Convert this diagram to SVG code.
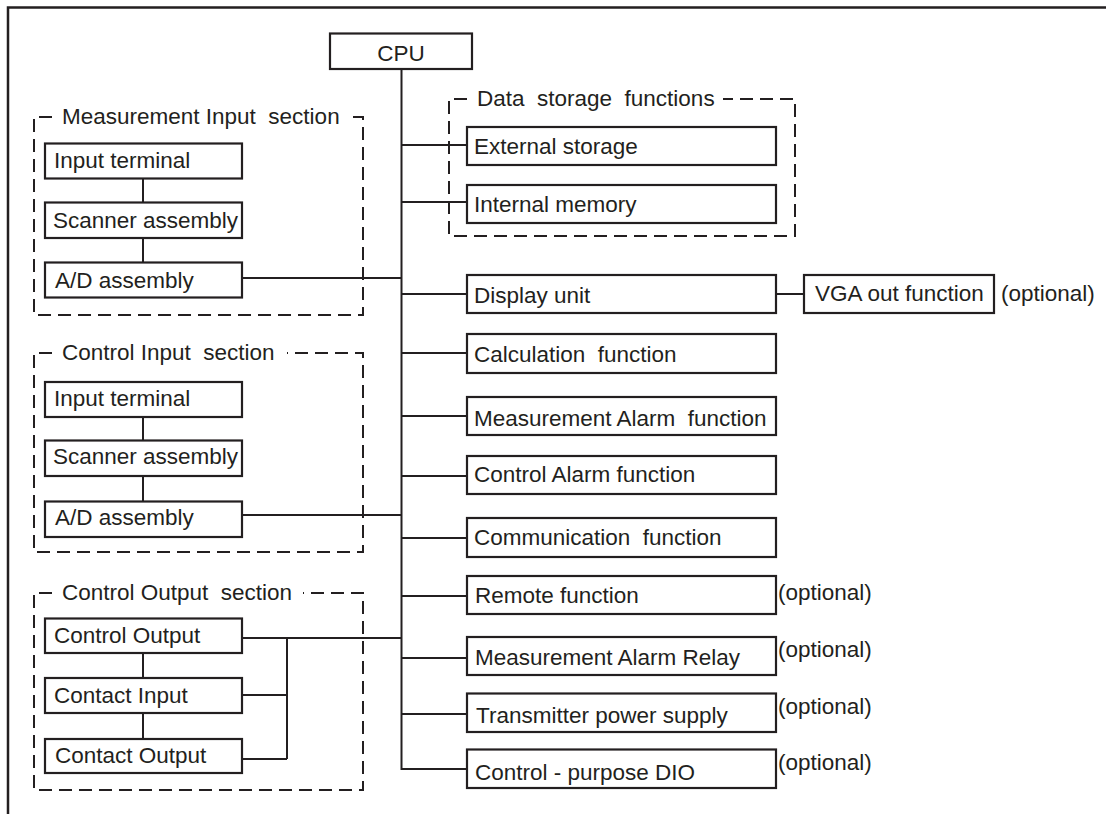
<svg xmlns="http://www.w3.org/2000/svg" width="1106" height="814" viewBox="0 0 1106 814">
  <style>
    .frame { fill: none; stroke: #231f20; stroke-width: 2.5; }
    .box rect { fill: #ffffff; stroke: #231f20; stroke-width: 2.2; }
    .grp { fill: none; stroke: #231f20; stroke-width: 2; stroke-dasharray: 13 7; }
    .wire { fill: none; stroke: #231f20; stroke-width: 2; }
    text { font-family: "Liberation Sans", Arial, Helvetica, sans-serif; font-size: 22.5px; fill: #231f20; white-space: pre; }
    .mid { text-anchor: middle; }
  </style>

  <rect width="1106" height="814" fill="#ffffff"/>

  <!-- page frame: top and left rules -->
  <path class="frame" d="M8,814 V7.5 H1106"/>

  <!-- connectors -->
  <g id="connectors">
    <!-- CPU trunk -->
    <path class="wire" d="M401.5,69 V769 H467"/>
    <!-- branches to the right-hand functions -->
    <path class="wire" d="M401.5,145 H467"/>
    <path class="wire" d="M401.5,202 H467"/>
    <path class="wire" d="M401.5,294 H467"/>
    <path class="wire" d="M401.5,353 H467"/>
    <path class="wire" d="M401.5,416 H467"/>
    <path class="wire" d="M401.5,476 H467"/>
    <path class="wire" d="M401.5,538 H467"/>
    <path class="wire" d="M401.5,596 H467"/>
    <path class="wire" d="M401.5,658 H467"/>
    <path class="wire" d="M401.5,714 H467"/>
    <!-- display unit to VGA out -->
    <path class="wire" d="M776,294 H804"/>
    <!-- left sections to the trunk -->
    <path class="wire" d="M242,278 H401.5"/>
    <path class="wire" d="M242,515 H401.5"/>
    <path class="wire" d="M242,638 H401.5"/>
    <!-- control output bus -->
    <path class="wire" d="M287,638 V759"/>
    <path class="wire" d="M242,695 H287"/>
    <path class="wire" d="M242,759 H287"/>
    <!-- chains inside each section -->
    <path class="wire" d="M143,178 V202 M143,238 V262"/>
    <path class="wire" d="M143,417 V440 M143,476 V501"/>
    <path class="wire" d="M143,653 V678 M143,713 V739"/>
  </g>

  <!-- CPU -->
  <g id="cpu" class="box">
    <rect x="330" y="33.5" width="142" height="35.5"/>
    <text x="401" y="61" class="mid">CPU</text>
  </g>

  <!-- Measurement Input section -->
  <g id="measurement-input-section">
    <path class="grp" d="M52,117 H34 V315 H363 V117 H350"/>
    <text x="62" y="124">Measurement Input  section</text>
    <g id="mi-input-terminal" class="box">
      <rect x="45" y="143.5" width="197" height="35"/>
      <text x="54" y="168">Input terminal</text>
    </g>
    <g id="mi-scanner" class="box">
      <rect x="45" y="202.5" width="197" height="35.5"/>
      <text x="53" y="228">Scanner assembly</text>
    </g>
    <g id="mi-ad" class="box">
      <rect x="45" y="262.5" width="197" height="35"/>
      <text x="55" y="288">A/D assembly</text>
    </g>
  </g>

  <!-- Control Input section -->
  <g id="control-input-section">
    <path class="grp" d="M52,353 H34 V552 H363 V353 H287"/>
    <text x="62" y="360">Control Input  section</text>
    <g id="ci-input-terminal" class="box">
      <rect x="45" y="382" width="197" height="35"/>
      <text x="54" y="406">Input terminal</text>
    </g>
    <g id="ci-scanner" class="box">
      <rect x="45" y="440.5" width="197" height="35.5"/>
      <text x="53" y="464">Scanner assembly</text>
    </g>
    <g id="ci-ad" class="box">
      <rect x="45" y="501.5" width="197" height="35.5"/>
      <text x="55" y="525">A/D assembly</text>
    </g>
  </g>

  <!-- Control Output section -->
  <g id="control-output-section">
    <path class="grp" d="M52,593 H34 V790 H363 V593 H303"/>
    <text x="62" y="600">Control Output  section</text>
    <g id="co-control-output" class="box">
      <rect x="45" y="618.5" width="197" height="34.5"/>
      <text x="54" y="643">Control Output</text>
    </g>
    <g id="co-contact-input" class="box">
      <rect x="45" y="678" width="197" height="35"/>
      <text x="54" y="703">Contact Input</text>
    </g>
    <g id="co-contact-output" class="box">
      <rect x="45" y="739" width="197" height="34"/>
      <text x="55" y="763">Contact Output</text>
    </g>
  </g>

  <!-- Data storage functions -->
  <g id="data-storage">
    <path class="grp" d="M467,99 H449 V236 H795 V99 H723"/>
    <text x="477" y="106">Data  storage  functions</text>
    <g id="external-storage" class="box">
      <rect x="467" y="127" width="309" height="38"/>
      <text x="474" y="154">External storage</text>
    </g>
    <g id="internal-memory" class="box">
      <rect x="467" y="185" width="309" height="38"/>
      <text x="474" y="212">Internal memory</text>
    </g>
  </g>

  <!-- Functions on the CPU bus -->
  <g id="display-unit" class="box">
    <rect x="467" y="275" width="309" height="38"/>
    <text x="474" y="303">Display unit</text>
  </g>
  <g id="vga-out" class="box">
    <rect x="804" y="275" width="190" height="38"/>
    <text x="815" y="301">VGA out function</text>
    <text x="1001" y="301">(optional)</text>
  </g>
  <g id="calculation" class="box">
    <rect x="467" y="334" width="309" height="39"/>
    <text x="474" y="362">Calculation  function</text>
  </g>
  <g id="measurement-alarm" class="box">
    <rect x="467" y="397" width="309" height="38"/>
    <text x="474" y="426">Measurement Alarm  function</text>
  </g>
  <g id="control-alarm" class="box">
    <rect x="467" y="456" width="309" height="38"/>
    <text x="474" y="482">Control Alarm function</text>
  </g>
  <g id="communication" class="box">
    <rect x="467" y="518" width="309" height="39"/>
    <text x="474" y="545">Communication  function</text>
  </g>
  <g id="remote" class="box">
    <rect x="467" y="576" width="309" height="38"/>
    <text x="475" y="603">Remote function</text>
    <text x="778" y="600">(optional)</text>
  </g>
  <g id="measurement-alarm-relay" class="box">
    <rect x="467" y="637" width="309" height="38"/>
    <text x="475" y="665">Measurement Alarm Relay</text>
    <text x="778" y="657">(optional)</text>
  </g>
  <g id="transmitter-power" class="box">
    <rect x="467" y="693.5" width="309" height="38.5"/>
    <text x="476" y="723">Transmitter power supply</text>
    <text x="778" y="714">(optional)</text>
  </g>
  <g id="control-purpose-dio" class="box">
    <rect x="467" y="749.5" width="309" height="38.5"/>
    <text x="475" y="780">Control - purpose DIO</text>
    <text x="778" y="770">(optional)</text>
  </g>
</svg>
